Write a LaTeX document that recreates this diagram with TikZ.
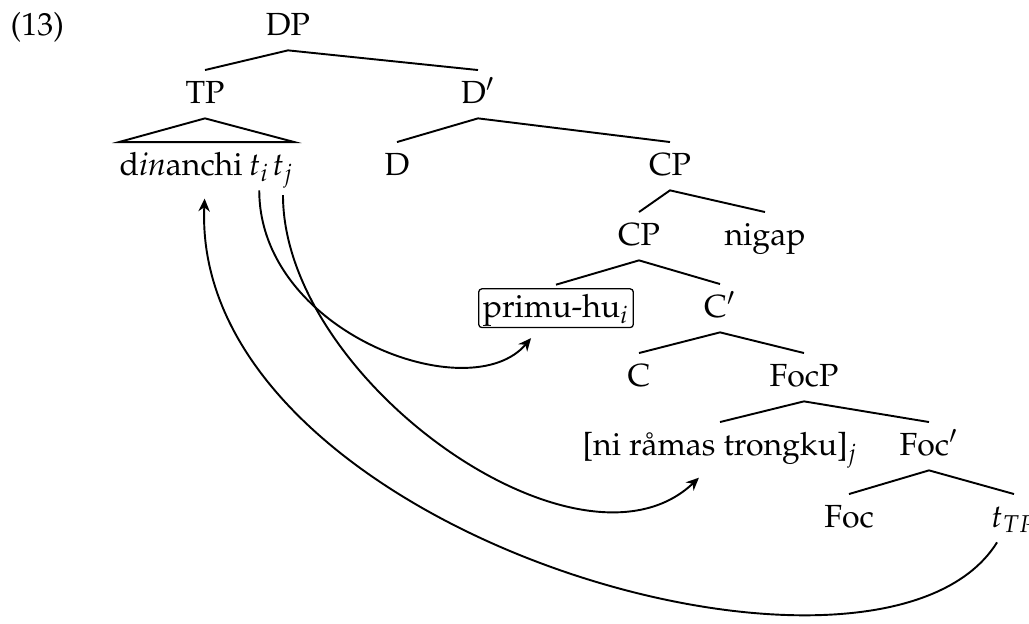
\documentclass[tikz,border=0pt]{standalone}
\usepackage[T1]{fontenc}
\usepackage{mathpazo}
\usetikzlibrary{positioning,arrows.meta}

\tikzset{
  tree/.style={anchor=base, inner xsep=0pt, inner ysep=2.6pt, text height=7.5pt, text depth=2pt},
  branch/.style={semithick},
  move/.style={semithick, -{Stealth[length=4pt,width=3.6pt,inset=1.3pt]}},
  landing/.style={tree, draw, thin, rounded corners=1pt, inner sep=1.3pt, outer ysep=1.3pt}
}

\begin{document}
\begin{tikzpicture}[x=0.3125pt,y=-0.3125pt]
	\useasboundingbox (0,0) rectangle (1029,623);
	\node[tree, anchor=base west] (ex) at (10,35) {(13)};
	% the tree
	\node[tree] (DP) at (288,35) {DP};
	\node[tree] (TP) at (205,103) {TP};
	\node[tree] (Dbar) at (478,103) {D$'$};
	\node[tree, anchor=base west] (dinanchi) at (119,175) {d\textit{in}anchi};
	\node[tree, right=1.6pt of dinanchi] (ti) {$t_i$};
	\node[tree, right=0.5pt of ti] (tj) {$t_j$};
	\node[tree] (D) at (397,175) {D};
	\node[tree] (CP) at (670,175) {CP};
	\node[tree] (CPlow) at (639,245) {CP};
	\node[tree] (nigap) at (765,245) {nigap};
	\node[landing] (primu) at (556,317) {primu-hu$_i$};
	\node[tree] (Cbar) at (720,317) {C$'$};
	\node[tree] (C) at (639,386) {C};
	\node[tree] (FocP) at (804,386) {FocP};
	\node[tree] (ni) at (720,455) {[ni r\aa mas trongku]$_j$};
	\node[tree] (Focbar) at (929,455) {Foc$'$};
	\node[tree] (Foc) at (849,527) {Foc};
	\node[tree] (tTP) at (1014,527) {$t_{TP}$};
	\draw[branch] (TP.north) -- (DP.south) -- (Dbar.north);
	\draw[branch] (TP.south) -- (dinanchi.north west) -- (tj.north east) -- cycle;
	\draw[branch] (D.north) -- (Dbar.south) -- (CP.north);
	\draw[branch] (CPlow.north) -- (CP.south) -- (nigap.north);
	\draw[branch] (primu.north) -- (CPlow.south) -- (Cbar.north);
	\draw[branch] (C.north) -- (Cbar.south) -- (FocP.north);
	\draw[branch] (ni.north) -- (FocP.south) -- (Focbar.north);
	\draw[branch] (Foc.north) -- (Focbar.south) -- (tTP.north);
	% movement
	\draw[move] (ti.south) .. controls +(0,142) and +(-61,72) .. ([xshift=-7.8pt,yshift=-2pt]primu.south);
	\draw[move] ([yshift=-1.5pt]tj.south) .. controls +(0,185) and +(-119,113) .. ([xshift=-6.6pt,yshift=-2.3pt]ni.south);
	\draw[move, shorten >=2.6pt] ([xshift=-5.3pt]tTP.south) .. controls +(-117,188) and +(-15,342) .. (TP |- dinanchi.south);
\end{tikzpicture}
\end{document}
